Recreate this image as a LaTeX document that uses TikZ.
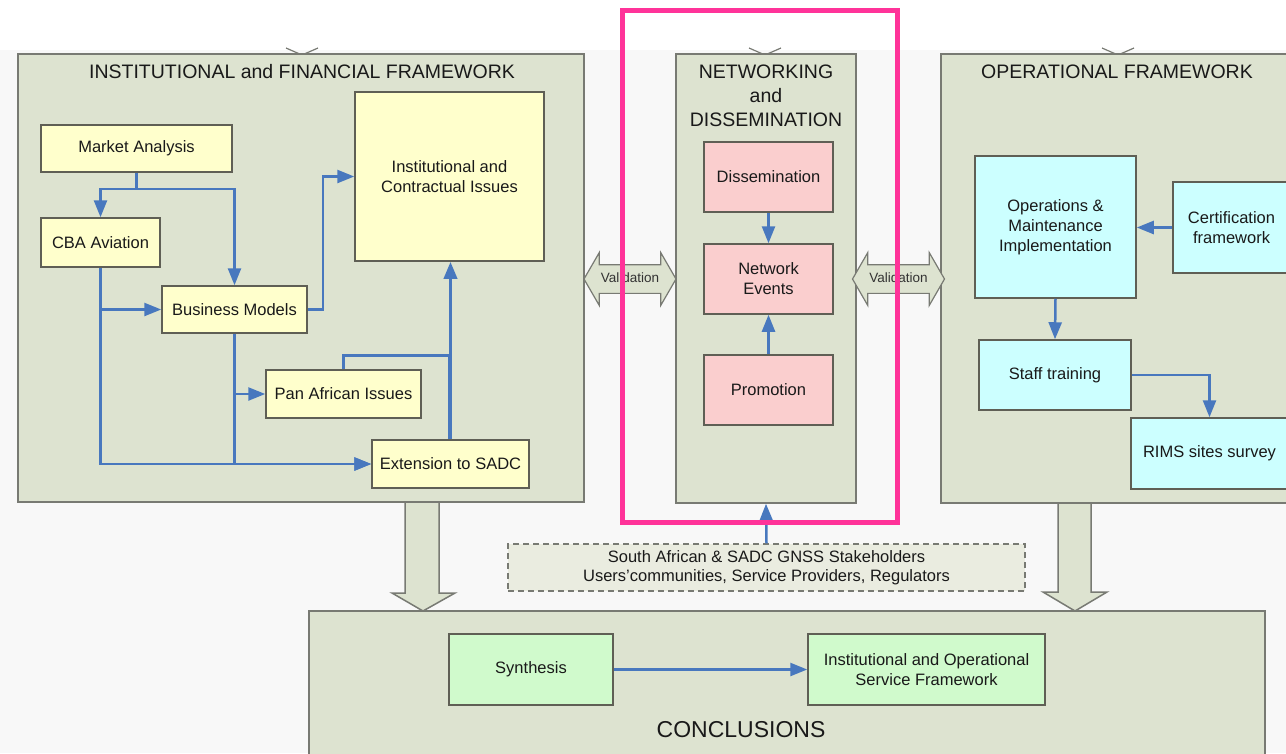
\documentclass[tikz,border=0pt]{standalone}
\usepackage{fontspec}
\setmainfont{Liberation Sans}
\usetikzlibrary{arrows.meta,shapes.arrows,positioning}
\definecolor{bggray}{RGB}{248,248,248}
\definecolor{panelfill}{RGB}{221,227,208}
\definecolor{framegray}{RGB}{120,122,115}
\definecolor{boxedge}{RGB}{95,95,85}
\definecolor{yellowfill}{RGB}{255,255,204}
\definecolor{pinkfill}{RGB}{250,206,206}
\definecolor{cyanfill}{RGB}{204,255,255}
\definecolor{greenfill}{RGB}{208,250,204}
\definecolor{stakefill}{RGB}{234,236,224}
\definecolor{flowblue}{RGB}{72,120,190}
\definecolor{hilite}{RGB}{255,51,153}
\newcommand{\bxfont}{\fontsize{16.5}{20}\selectfont}
\newcommand{\ttlfont}{\fontsize{19.5}{24}\selectfont}
\tikzset{
  panel/.style={draw=framegray, line width=1.5pt, fill=panelfill, inner sep=0pt},
  paneltitle/.style={font=\ttlfont, align=center, text=black!90},
  card/.style={draw=boxedge, line width=1.5pt, align=center, font=\bxfont, text=black!90, inner sep=2pt},
  ycard/.style={card, fill=yellowfill},
  pcard/.style={card, fill=pinkfill},
  ccard/.style={card, fill=cyanfill},
  gcard/.style={card, fill=greenfill},
  flow/.style={draw=flowblue, line width=2.5pt, -{Triangle[length=17pt,width=13pt]}},
  link/.style={draw=flowblue, line width=2.5pt},
  valid/.style={double arrow, draw=framegray, line width=1.2pt, fill=panelfill, font=\fontsize{13.5}{15}\selectfont,
    text=black!80, double arrow head extend=12pt, double arrow tip angle=120, text height=9.5pt, text depth=2pt,
    inner ysep=8pt, inner xsep=0pt, minimum height=92pt},
  bigarrow/.style={draw=framegray, line width=1.5pt, fill=panelfill, line join=miter},
}
\begin{document}
\begin{tikzpicture}[x=1pt,y=-1pt]
  \clip (0,0) rectangle (1286,753);
  \fill[bggray] (0,50) rectangle (1286,753);
  \foreach \x in {302,765,1118}
    \draw[framegray, line width=1.2pt] (\x-16,48) -- (\x,55) -- (\x+16,48);

  \node[panel, minimum width=566, minimum height=448] (instp) at (301,278) {};
  \node[panel, minimum width=180, minimum height=449] (netp) at (766,278.5) {};
  \node[panel, minimum width=359, minimum height=449] (opp) at (1120.5,278.5) {};
  \node[panel, minimum width=956, minimum height=149] (concp) at (787,685.5) {};

  \draw[bigarrow] (405,503) -- (405,593) -- (392,593) -- (423,611) -- (455,593) -- (439,593) -- (439,503);
  \draw[bigarrow] (1058,504) -- (1058,592) -- (1043,592) -- (1075,611) -- (1107,592) -- (1091,592) -- (1091,504);

  \node[paneltitle] (insttitle) at (302,72) {INSTITUTIONAL and FINANCIAL FRAMEWORK};
  \node[paneltitle] (nettitle) at (766,96) {NETWORKING\\and\\DISSEMINATION};
  \node[paneltitle] (optitle) at (1117,72) {OPERATIONAL FRAMEWORK};
  \node[paneltitle, font=\fontsize{23}{26}\selectfont] (conctitle) at (741,730) {CONCLUSIONS};

  \node[ycard, minimum width=191, minimum height=47] (market) at (136.5,148.5) {Market Analysis};
  \node[ycard, minimum width=119, minimum height=49] (cba) at (100.5,242.5) {CBA Aviation};
  \node[ycard, minimum width=145, minimum height=47] (bm) at (234.5,309.5) {Business Models};
  \node[ycard, minimum width=189, minimum height=169] (inst) at (449.5,176.5) {Institutional and\\Contractual Issues};
  \node[ycard, minimum width=155, minimum height=48] (pan) at (343.5,394) {Pan African Issues};
  \node[ycard, minimum width=157, minimum height=48] (ext) at (450.5,464) {Extension to SADC};

  \node[pcard, minimum width=129, minimum height=70] (dis) at (768.5,177) {Dissemination};
  \node[pcard, minimum width=129, minimum height=70] (net) at (768.5,279) {Network\\Events};
  \node[pcard, minimum width=129, minimum height=70] (pro) at (768.5,390) {Promotion};

  \node[ccard, minimum width=161, minimum height=142] (om) at (1055.5,227) {Operations \&\\Maintenance\\Implementation};
  \node[ccard, minimum width=117, minimum height=91] (cert) at (1231.5,227.5) {Certification\\framework};
  \node[ccard, minimum width=152, minimum height=70] (staff) at (1055,375) {Staff training};
  \node[ccard, minimum width=157, minimum height=71] (rims) at (1209.5,453.5) {RIMS sites survey};

  \node[gcard, minimum width=164, minimum height=71] (syn) at (531,669.5) {Synthesis};
  \node[gcard, minimum width=237, minimum height=71] (iosf) at (926.5,669.5) {Institutional and Operational\\Service Framework};

  \node[card, fill=stakefill, draw=framegray, dashed, dash pattern=on 6pt off 4pt, minimum width=517, minimum height=47,
    font=\fontsize{16.5}{19.5}\selectfont] (stake) at (766.5,567.5)
    {South African \& SADC GNSS Stakeholders\\Users'communities, Service Providers, Regulators};

  \node[valid] (val1) at (630,279) {Validation};
  \node[valid] (val2) at (898.5,279) {Validation};

  \draw[flow] (market.south) -- ++(0,16) -| (cba.north);
  \draw[flow] (market.south) -- ++(0,16) -| (bm.north);
  \draw[flow] (cba.south) |- (bm.west);
  \draw[flow] (cba.south) |- (ext.west);
  \draw[flow] (bm.south) |- (pan.west);
  \draw[flow] (bm.south) |- (ext.west);
  \draw[flow] (bm.east) -- ++(15,0) |- (inst.west);
  \draw[link] (pan.north) -- ++(0,-14) -| (ext.north -| inst.south);
  \draw[flow, line width=3.5pt] (ext.north) -- (ext.north |- inst.south);

  \draw[flow] (dis.south) -- (net.north);
  \draw[flow] (pro.north) -- (net.south);
  \draw[flow] (stake.north) -- (netp.south);

  \draw[flow] (cert.west) -- (cert.west -| om.east);
  \draw[flow] (om.south) -- (staff.north);
  \draw[flow] (staff.east) -| (rims.north);

  \draw[flow] (syn.east) -- (iosf.west);

  \draw[hilite, line width=5pt] (622,10) rectangle (897,522);
\end{tikzpicture}
\end{document}
